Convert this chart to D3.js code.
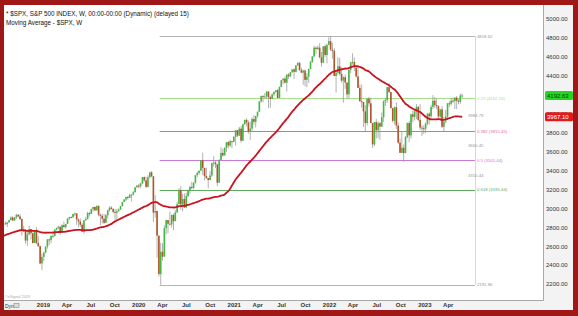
<!DOCTYPE html>
<html>
<head>
<meta charset="utf-8">
<script src="https://cdn.jsdelivr.net/npm/d3@7"></script>
<style>
  html, body { margin: 0; padding: 0; background: #fff; }
  svg { display: block; font-family: "Liberation Sans", Arial, sans-serif; }
</style>
</head>
<body>
<svg id="chart" width="578" height="316"></svg>
<script>
// weekly closes (Fridays) starting 2017-11-03; the first 40 only warm up the moving average
const firstFriday = new Date(2017, 10, 3);
const warmup = 40;
const maPeriod = 40;
const closes = [
  2588,2582,2579,2602,2642,2652,2676,2683,2674,2743,2786,2810,2873,2762,2620,2732,2747,2691,2786,2752,
  2588,2641,2604,2656,2670,2670,2663,2728,2713,2721,2735,2779,2780,2755,2718,2760,2801,2802,2819,2840,
  // 2018 (from Aug 10)
  2833,2850,2875,2902,2872,2905,2930,2914,2886,2767,2768,2659,2723,2781,2736,2633,2760,2633,2600,2417,2486,
  // 2019
  2532,2596,2671,2665,2707,2708,2776,2793,2804,2743,2822,2800,2834,2893,2907,2905,2940,2946,2881,2860,2826,2752,
  2873,2887,2950,2942,2990,3014,2977,3026,2932,2919,2889,2847,2926,2979,3007,2992,2962,2952,2970,2986,3023,3067,
  3093,3120,3110,3141,3146,3169,3221,3240,
  // 2020
  3235,3265,3330,3295,3226,3328,3380,3338,2954,2972,2711,2305,2541,2489,2790,2875,2837,2831,2930,2864,2955,3044,
  3194,3041,3098,3009,3130,3185,3225,3216,3271,3351,3373,3397,3508,3427,3341,3319,3298,3348,3477,3484,3465,3270,
  3509,3585,3558,3638,3699,3663,3709,3703,
  // 2021
  3756,3825,3768,3841,3714,3887,3934,3907,3811,3842,3943,3913,3975,4020,4129,4185,4180,4181,4233,4174,4156,4204,
  4230,4247,4166,4281,4352,4370,4327,4412,4395,4437,4468,4442,4509,4535,4459,4433,4455,4357,4391,4471,4545,4605,
  4697,4683,4698,4595,4538,4712,4620,4726,4766,
  // 2022
  4677,4663,4398,4432,4500,4419,4349,4385,4329,4204,4463,4543,4546,4488,4393,4272,4132,4123,4024,3901,4158,4109,
  3901,3675,3912,3825,3899,3863,3962,4130,4145,4280,4228,4057.66,3924.26,4067.36,3873.33,3693.23,3585.62,3639.66,
  3583.07,3752.75,3901.06,3770.55,3992.93,3965.34,4026.12,4071.70,3934.38,3852.36,3844.82,3839.50,
  // 2023
  3895.08,3999.09,3972.61,4070.56,4136.48,4090.46,4079.09,3970.04,4045.64,3861.59,3916.64,3970.99,4109.31,
  4105.02,4137.64,4133.52,4169.48,4136.25,4124.08,4191.98,4192.63
];

// weekly highs and lows for the drawn weeks (2018-08-10 .. 2023-05-26)
const highs = [
  2863,2855,2877,2916,2916,2906,2941,2940,2940,2894,2816,2780,2756,2815,2782,2747,2760,2800,2708,2607,2520,
  2539,2598,2675,2680,2716,2738,2776,2795,2816,2812,2830,2860,2836,2894,2910,2916,2940,2954,2931,2892,2892,2841,
  2876,2910,2964,2959,2996,3014,3018,3028,3028,2943,2943,2939,2940,2985,3021,3022,3002,2993,2993,3000,3027,3067,
  3097,3120,3128,3154,3150,3182,3226,3248,
  3258,3268,3330,3337,3333,3348,3385,3393,3260,3137,2883,2562,2637,2631,2819,2880,2868,2965,2932,2945,2981,3068,
  3212,3233,3155,3155,3165,3198,3238,3280,3272,3352,3387,3399,3509,3588,3425,3429,3320,3394,3482,3550,3502,3466,
  3521,3646,3628,3645,3701,3712,3726,3711,
  3760,3827,3823,3861,3870,3894,3937,3950,3928,3915,3960,3983,3978,4021,4130,4191,4195,4218,4238,4236,4188,4213,
  4234,4249,4261,4287,4356,4372,4393,4415,4429,4440,4468,4480,4513,4545,4549,4486,4466,4466,4429,4475,4559,4608,
  4718,4708,4718,4744,4652,4713,4731,4740,4808,
  4819,4749,4691,4453,4595,4590,4489,4395,4415,4302,4465,4546,4637,4593,4471,4513,4308,4308,4081,4090,4160,4178,
  4168,3838,3913,3946,3918,3911,4013,4141,4167,4281,4325,4218,4062,4076,4120,3908,3736,3806,3673,3763,3905,3920,
  4001,4029,4034,4101,4080,4101,3876,3878,
  3906,4003,4015,4095,4195,4176,4157,4089,4048,4078,3964,4040,4110,4133,4164,4170,4170,4186,4155,4213,4212
];
const lows = [
  2829,2802,2850,2876,2864,2868,2886,2903,2874,2710,2749,2628,2603,2717,2670,2631,2633,2621,2593,2409,2346,
  2443,2525,2573,2612,2631,2687,2703,2764,2775,2722,2739,2800,2785,2848,2874,2896,2898,2918,2825,2801,2805,2750,
  2729,2869,2882,2913,2952,2966,2974,2976,2914,2822,2840,2834,2853,2891,2964,2988,2946,2856,2874,2963,2983,3020,
  3066,3075,3090,3112,3070,3134,3170,3222,
  3213,3212,3254,3280,3214,3222,3315,3328,2855,2902,2478,2281,2192,2447,2489,2727,2736,2821,2798,2767,2865,2955,
  3044,2984,2966,3004,2999,3115,3154,3204,3200,3260,3329,3354,3396,3350,3294,3314,3210,3300,3332,3441,3425,3233,
  3268,3511,3547,3559,3594,3633,3647,3636,
  3697,3663,3753,3764,3694,3725,3885,3865,3789,3723,3805,3884,3853,3956,4021,4118,4119,4165,4157,4057,4062,4154,
  4183,4219,4165,4165,4280,4310,4321,4233,4364,4385,4432,4367,4436,4513,4456,4428,4305,4289,4279,4323,4475,4537,
  4595,4631,4672,4585,4495,4532,4600,4531,4733,
  4662,4582,4395,4223,4414,4402,4328,4115,4262,4157,4161,4425,4516,4450,4381,4269,4124,4063,3859,3811,3876,4074,
  3900,3637,3658,3739,3742,3722,3880,3913,4080,4112,4218,4057,3907,3886,3838,3681,3585,3585,3492,3647,3740,3699,
  3737,3907,3928,3940,3918,3828,3764,3784,
  3794,3877,3885,3949,4048,4060,4047,3943,3928,3847,3809,3901,3949,4069,4086,4113,4049,4048,4098,4103,4166
];

// fibonacci retracement drawn from the March 2020 low to the January 2022 high
const fibStart = new Date(2020, 2, 23);
const fibEnd = new Date(2023, 6, 14);
const fibPrices = [4818.62, 4162.24, 3815.45, 3505.44, 3195.44, 2191.86];
const fibLabels = ["4818.62", "0.25 (4162.24)", "0.382 (3815.45)", "0.5 (3505.44)", "0.618 (3195.44)", "2191.86"];
const fibColors = ["#b4b4b4", "#a6e08a", "#e46a90", "#c77ad6", "#5fa85f", "#b4b4b4"];
const midPrices = [3984.79, 3660.45, 3350.44];

const priceTicks = d3.range(2200, 5001, 200);

const svg = d3.select("#chart");
const plot = { left: 4, top: 5, right: 543, bottom: 300 };

// frame
svg.append("rect").attr("width", 578).attr("height", 316).attr("fill", "#9f1717");
svg.append("rect").attr("x", 4).attr("y", 5).attr("width", 569).attr("height", 305).attr("fill", "#f3f3f3");
svg.append("rect").attr("x", plot.left).attr("y", plot.top)
  .attr("width", plot.right - plot.left).attr("height", plot.bottom - plot.top).attr("fill", "#fff");
svg.append("line").attr("x1", plot.right + 0.5).attr("x2", plot.right + 0.5)
  .attr("y1", plot.top).attr("y2", plot.bottom + 0.5).attr("stroke", "#a8a8a8");
svg.append("line").attr("x1", plot.left).attr("x2", plot.right + 0.5)
  .attr("y1", plot.bottom + 0.5).attr("y2", plot.bottom + 0.5).attr("stroke", "#a8a8a8");

svg.append("clipPath").attr("id", "clip").append("rect")
  .attr("x", plot.left).attr("y", plot.top)
  .attr("width", plot.right - plot.left).attr("height", plot.bottom - plot.top);

const x = d3.scaleTime()
  .domain([new Date(2019, 0, 1), new Date(2023, 0, 1)])
  .range([43, 424.3]);
const y = d3.scaleLinear().domain([2200, 5000]).range([284, 19]);

const weeks = closes.map((_, i) => d3.timeDay.offset(firstFriday, 7 * i));
const ma = closes.map((_, i) => i < maPeriod - 1 ? null : d3.mean(closes.slice(i - maPeriod + 1, i + 1)));

const bars = highs.map((h, j) => {
  const i = j + warmup;
  const o = closes[i - 1], c = closes[i];
  return { date: weeks[i], o: o, c: c, h: Math.max(h, o, c), l: Math.min(lows[j], o, c) };
});

const g = svg.append("g").attr("clip-path", "url(#clip)");

// fib lines
fibPrices.forEach((p, i) => {
  g.append("line")
    .attr("x1", x(fibStart)).attr("x2", x(fibEnd))
    .attr("y1", Math.round(y(p)) + 0.5).attr("y2", Math.round(y(p)) + 0.5)
    .attr("stroke", fibColors[i]).attr("stroke-width", 1);
  g.append("text")
    .attr("x", x(fibEnd) + 2).attr("y", y(p)).attr("dy", "0.35em")
    .attr("font-size", 4.3).attr("fill", fibColors[i] === "#b4b4b4" ? "#999" : fibColors[i])
    .text(fibLabels[i]);
});
g.append("line")
  .attr("x1", Math.round(x(fibEnd)) + 0.5).attr("x2", Math.round(x(fibEnd)) + 0.5)
  .attr("y1", y(fibPrices[0])).attr("y2", y(fibPrices[5]))
  .attr("stroke", "#d6d6d6");
midPrices.forEach(p => {
  g.append("text")
    .attr("x", x(fibEnd) - 7).attr("y", y(p)).attr("dy", "0.35em")
    .attr("font-size", 4.3).attr("fill", "#999")
    .text(d3.format(".2f")(p));
});

// candles
const candle = g.selectAll("g.bar").data(bars).enter().append("g").attr("class", "bar");
candle.append("line")
  .attr("x1", d => x(d.date)).attr("x2", d => x(d.date))
  .attr("y1", d => y(d.h)).attr("y2", d => y(d.l))
  .attr("stroke", "#8f8f8f").attr("stroke-width", 0.7);
candle.append("rect")
  .attr("x", d => x(d.date) - 0.8)
  .attr("width", 1.6)
  .attr("y", d => y(Math.max(d.o, d.c)))
  .attr("height", d => Math.max(1, Math.abs(y(d.o) - y(d.c))))
  .attr("fill", d => d.c >= d.o ? "#43b843" : "#b0562a");

// moving average
const maLine = d3.line()
  .defined(d => d.v != null)
  .x(d => x(d.date))
  .y(d => y(d.v))
  .curve(d3.curveMonotoneX);
g.append("path")
  .datum(weeks.map((w, i) => ({ date: w, v: ma[i] })))
  .attr("d", maLine)
  .attr("fill", "none")
  .attr("stroke", "#c8141e")
  .attr("stroke-width", 1.8);

// titles
svg.append("text").attr("x", 6).attr("y", 16).attr("font-size", 6.3).attr("fill", "#111")
  .text("* $SPX, S&P 500 INDEX, W, 00:00-00:00 (Dynamic) (delayed 15)");
svg.append("text").attr("x", 6).attr("y", 25).attr("font-size", 6.3).attr("fill", "#111")
  .text("Moving Average - $SPX, W");
svg.append("text").attr("x", 5).attr("y", 297.5).attr("font-size", 3.8).attr("fill", "#aaa")
  .text("©eSignal 2023");

// axes
const yAxis = svg.append("g")
  .attr("transform", `translate(${plot.right},0)`)
  .call(d3.axisRight(y).tickValues(priceTicks).tickFormat(d3.format(".2f")).tickSize(0).tickPadding(3));
yAxis.select(".domain").remove();
yAxis.selectAll("text").attr("font-size", 6).attr("fill", "#333").attr("font-family", "Liberation Sans, Arial, sans-serif");

const xAxis = svg.append("g")
  .attr("transform", `translate(0,${plot.bottom})`)
  .call(d3.axisBottom(x)
    .tickValues(d3.timeMonth.range(new Date(2019, 0, 1), new Date(2023, 4, 1), 3))
    .tickFormat(d => d.getMonth() === 0 ? d3.timeFormat("%Y")(d) : d3.timeFormat("%b")(d))
    .tickSize(0).tickPadding(3));
xAxis.select(".domain").remove();
xAxis.selectAll("text").attr("font-size", 6).attr("font-weight", "bold").attr("fill", "#333")
  .attr("font-family", "Liberation Sans, Arial, sans-serif");

svg.append("text").attr("x", 5).attr("y", 308).attr("font-size", 5).attr("fill", "#333").text("Dyn");
svg.append("rect").attr("x", 14).attr("y", 303.5).attr("width", 5).attr("height", 4)
  .attr("fill", "#ddd").attr("stroke", "#777").attr("stroke-width", 0.5);

// last price and moving average markers on the price axis
const lastClose = closes[closes.length - 1];
const lastMA = ma[ma.length - 1];
[[lastClose, "#22d622", "#0b3d0b"], [lastMA, "#e01b1b", "#fff"]].forEach(([v, bg, fg]) => {
  svg.append("rect").attr("x", plot.right + 2).attr("y", y(v) - 4.5)
    .attr("width", 28).attr("height", 9).attr("rx", 1.5).attr("fill", bg);
  svg.append("text").attr("x", plot.right + 4).attr("y", y(v)).attr("dy", "0.35em")
    .attr("font-size", 6).attr("fill", fg).text(d3.format(".2f")(v));
});
</script>
</body>
</html>
